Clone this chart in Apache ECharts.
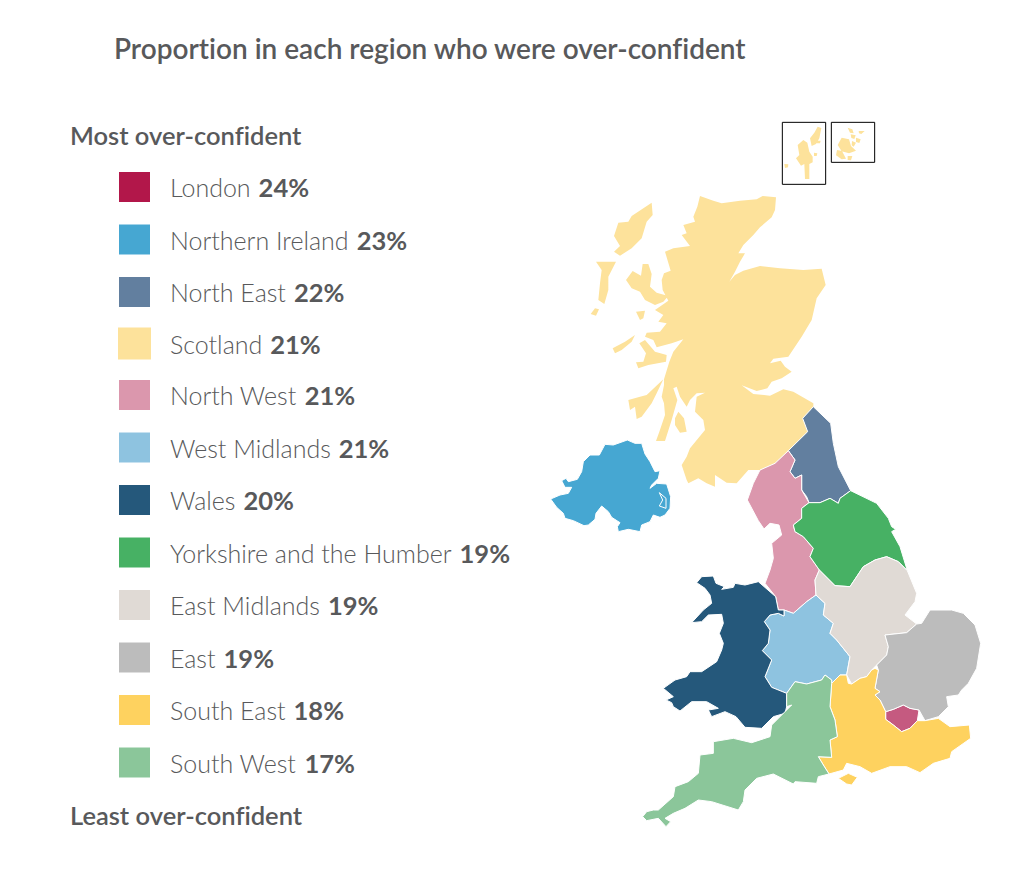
<!DOCTYPE html>
<html><head><meta charset="utf-8">
<style>html,body{margin:0;padding:0;background:#fff}#c{width:1024px;height:893px}#c text{font-variant-ligatures:none}</style>
<script src="https://cdn.jsdelivr.net/npm/echarts@6/dist/echarts.min.js"></script></head>
<body><div id="c"></div>
<script>
const titleText = 'Proportion in each region who were over-confident';
const topCaption = 'Most over-confident';
const bottomCaption = 'Least over-confident';
const regions = ['London','Northern Ireland','North East','Scotland','North West','West Midlands','Wales','Yorkshire and the Humber','East Midlands','East','South East','South West'];
const values = [24,23,22,21,21,21,20,19,19,19,18,17];
const swatchColors = ['#b2174a','#46a7d2','#627f9f','#fde29b','#db97ad','#8ec3e0','#25587b','#47b164','#e0dad5','#bcbcbc','#fed25f','#8bc69a'];
const mapColors = ['#c55a80','#46a7d2','#627f9f','#fde29b','#db97ad','#8ec3e0','#25587b','#47b164','#e0dad5','#bcbcbc','#fed25f','#8bc69a'];

// Region outlines. Units are thirds of a reference pixel,
// relative to one of three local sheets.
const N = [1620,330], S = [1890,1440], I = [1620,1290];
const outlines = {
 'London':[[S,[[767,695],[790,688],[820,675],[840,685],[867,690],[862,722],[840,745],[815,755],[790,735],[767,718]]]],
 'Northern Ireland':[[I,[[32,207],[60,195],[85,190],[95,172],[75,172],[65,152],[78,145],[85,155],[112,148],[125,125],[130,95],[150,75],[178,75],[195,43],[220,45],[262,30],[285,40],[305,40],[315,72],[330,95],[345,125],[360,122],[355,145],[335,165],[330,175],[350,160],[380,162],[392,200],[390,235],[375,255],[360,262],[340,255],[330,275],[305,285],[300,305],[265,298],[235,305],[232,290],[240,278],[215,262],[205,245],[185,228],[168,250],[165,268],[145,285],[132,287],[100,272],[75,265],[70,250],[50,232]],[[358,188],[378,205],[378,235],[358,228],[368,210]]]],
 'North East':[[S,[[550,-220],[602,-170],[610,-110],[625,-40],[662,32],[630,55],[625,70],[600,55],[570,68],[537,68],[530,50],[515,30],[515,-15],[495,-5],[480,-25],[495,-60],[475,-88],[533,-145],[518,-185]]]],
 'Scotland':[
  [N,[[480,258],[520,272],[545,280],[600,272],[650,268],[668,258],[708,262],[705,300],[695,322],[660,352],[640,375],[610,405],[595,430],[615,430],[600,455],[585,485],[568,515],[585,495],[610,482],[660,468],[720,475],[790,480],[845,476],[857,525],[830,565],[815,630],[785,680],[755,725],[745,740],[700,746],[690,760],[722,752],[735,770],[755,785],[725,805],[695,815],[682,835],[650,843],[605,826],[640,852],[690,857],[730,838],[760,845],[820,880],[820,890],[788,925],[803,965],[745,1022],[705,1060],[660,1080],[625,1080],[590,1120],[560,1118],[525,1095],[525,1130],[500,1120],[475,1105],[445,1120],[458,1145],[440,1110],[425,1065],[440,1040],[450,1015],[495,960],[490,930],[465,905],[470,860],[495,848],[470,850],[450,870],[440,890],[420,860],[410,830],[400,835],[412,870],[395,930],[375,993],[348,993],[358,965],[375,915],[372,880],[365,860],[372,825],[372,808],[388,755],[400,725],[430,688],[395,700],[350,712],[340,690],[315,680],[320,668],[360,665],[380,640],[355,635],[370,615],[345,600],[385,572],[368,540],[365,510],[372,490],[392,482],[375,425],[400,415],[450,408],[425,375],[440,370],[430,345],[465,335],[460,320],[472,290]]],
  [N,[[258,510],[278,483],[303,497],[308,462],[325,462],[335,492],[330,530],[350,548],[385,558],[370,575],[345,585],[315,570],[300,545],[275,535]]],
  [N,[[335,278],[338,315],[320,335],[305,385],[275,415],[240,437],[222,425],[240,408],[222,378],[235,338],[265,335],[275,318]]],
  [N,[[168,455],[228,455],[205,500],[205,540],[193,582],[175,570],[180,520],[185,480]]],
  [N,[[152,612],[165,595],[177,598],[168,617]]],
  [N,[[288,605],[315,602],[310,625],[300,630]]],
  [N,[[218,715],[255,695],[285,675],[275,695],[245,720],[225,730]]],
  [N,[[298,700],[315,690],[345,725],[380,735],[378,755],[325,765],[295,775],[288,757],[310,755],[318,730]]],
  [N,[[265,870],[300,860],[320,855],[370,808],[350,850],[335,880],[305,920],[290,927],[285,890],[270,900]]],
  [N,[[405,925],[415,905],[432,925],[440,965],[420,968],[405,945]]],
  [N,[[790,90],[802,98],[808,125],[818,140],[818,157],[808,162],[808,207],[795,207],[793,162],[783,167],[768,145],[778,135],[773,105]]],
  [N,[[833,50],[844,54],[838,85],[828,102],[815,108],[810,85],[823,68]]],
  [N,[[830,90],[842,92],[840,100],[830,100]]],
  [N,[[733,162],[745,163],[744,172],[735,174]]],
  [N,[[822,128],[832,130],[830,138],[822,138]]],
  [N,[[905,83],[927,88],[933,108],[948,122],[927,130],[905,124],[893,105]]],
  [N,[[891,120],[906,123],[918,146],[905,148],[888,136]]],
  [N,[[923,138],[937,138],[933,151],[923,150]]],
  [N,[[923,53],[937,58],[941,70],[930,68]]],
  [N,[[948,83],[962,88],[958,99],[948,96]]],
  [N,[[956,63],[974,63],[964,72],[957,70]]],
  [N,[[932,73],[947,76],[943,87],[934,84]]],
  [N,[[936,93],[948,98],[941,110],[935,106]]]
 ],
 'North West':[[S,[[475,-88],[495,-60],[480,-25],[495,-5],[515,-15],[515,30],[537,68],[515,85],[515,115],[490,135],[495,155],[520,170],[550,205],[540,230],[568,270],[555,300],[558,345],[530,365],[490,400],[462,390],[445,390],[437,350],[405,310],[420,270],[430,235],[425,190],[455,165],[447,135],[420,130],[402,147],[385,122],[352,60],[370,10],[390,-30],[435,-50]]]],
 'West Midlands':[[S,[[558,345],[585,370],[580,405],[610,430],[600,460],[620,480],[660,530],[650,585],[630,585],[605,610],[605,600],[585,585],[575,600],[530,612],[495,605],[470,640],[425,622],[405,590],[425,540],[397,512],[415,490],[420,450],[403,425],[420,405],[445,400],[462,408],[462,390],[490,400],[530,365]]]],
 'Wales':[[S,[[200,308],[215,290],[250,288],[258,310],[283,320],[275,328],[310,322],[315,310],[345,315],[385,305],[437,350],[445,390],[462,390],[462,408],[445,400],[420,405],[403,425],[420,450],[415,490],[397,512],[425,540],[405,590],[425,622],[470,640],[470,680],[465,700],[430,710],[395,745],[345,742],[318,710],[285,695],[245,710],[235,690],[265,685],[230,665],[185,665],[150,693],[130,680],[125,668],[108,660],[130,650],[100,625],[135,600],[170,590],[180,575],[215,575],[260,545],[275,510],[280,490],[268,460],[280,430],[275,403],[235,405],[215,425],[185,428],[220,390],[245,370],[240,345],[225,325]]]],
 'Yorkshire and the Humber':[[S,[[662,32],[740,70],[775,115],[785,140],[797,148],[785,155],[810,200],[832,272],[805,245],[770,230],[735,240],[700,260],[660,320],[615,317],[568,270],[540,230],[550,205],[520,170],[495,155],[490,135],[515,115],[515,85],[537,68],[570,68],[600,55],[625,70],[630,55]]]],
 'East Midlands':[[S,[[832,272],[860,340],[855,365],[825,405],[860,432],[830,458],[765,465],[775,500],[770,525],[740,555],[725,570],[710,590],[690,595],[665,612],[650,585],[660,530],[620,480],[600,460],[610,430],[580,405],[585,370],[558,345],[555,300],[568,270],[615,317],[660,320],[700,260],[735,240],[770,230],[805,245]]]],
 'East':[[S,[[860,432],[875,430],[900,390],[965,390],[1000,400],[1035,435],[1052,490],[1040,565],[1015,610],[995,630],[985,645],[950,650],[955,680],[925,710],[885,722],[867,690],[840,685],[820,675],[790,688],[767,695],[750,660],[735,645],[750,635],[735,625],[745,570],[740,555],[770,525],[775,500],[765,465],[830,458]]]],
 'South East':[
  [S,[[735,565],[745,570],[735,625],[750,635],[735,645],[750,660],[767,695],[767,718],[790,735],[815,755],[840,745],[862,722],[885,722],[925,715],[960,740],[1018,735],[1022,775],[965,815],[960,835],[910,850],[870,878],[830,860],[780,860],[725,880],[690,860],[650,850],[640,870],[597,882],[580,855],[565,830],[605,832],[600,780],[622,770],[615,720],[600,680],[605,610],[630,585],[650,585],[655,610],[665,612],[690,595],[710,590],[725,570]]],
  [S,[[625,895],[655,880],[682,892],[665,915],[650,912]]]
 ],
 'South West':[[S,[[605,610],[600,680],[615,720],[622,770],[600,780],[605,832],[565,830],[580,855],[597,882],[565,890],[560,910],[495,905],[490,912],[430,882],[380,895],[345,930],[340,965],[325,990],[245,965],[205,960],[165,985],[130,1000],[105,1015],[122,1025],[108,1040],[85,1015],[50,1022],[38,1010],[50,995],[70,990],[85,990],[130,950],[135,920],[175,905],[205,880],[210,825],[250,820],[250,785],[310,775],[365,788],[420,770],[425,735],[485,675],[470,680],[470,640],[495,605],[530,612],[575,600],[585,585],[605,600]]]]
};
// Inset frames around Shetland and Orkney.
const insetFrames = [[N,[[727,37],[857,37],[857,223],[727,223]]],[N,[[874,37],[1004,37],[1004,157],[874,157]]]];

const FULL_W = 3072, FULL_H = 2679;
function ring(sheet, pts){ const r = pts.map(p=>[sheet[0]+p[0], -(sheet[1]+p[1])]); r.push(r[0]); return r; }
function feature(name, parts){
  return {type:'Feature',properties:{name},geometry:{type:'MultiPolygon',
    coordinates:parts.map(part=>[ring(part[0],part[1])].concat(part.slice(2).map(h=>ring(part[0],h))))}};
}
function register(id, features){ echarts.registerMap(id,{type:'FeatureCollection',features}); }
const baseMap = {type:'map',aspectScale:1,roam:false,silent:true,left:0,top:0,width:1024,height:893,showLegendSymbol:false,
  boundingCoords:[[0,0],[FULL_W,-FULL_H]],label:{show:false},emphasis:{disabled:true},select:{disabled:true}};
const regionSeries = regions.map((name,i)=>{
  const id='uk-'+i; register(id,[feature(name,outlines[name])]);
  const islands = name==='Scotland';
  return Object.assign({},baseMap,{name,map:id,z:islands?1:2,data:[{name,value:values[i]}],
    itemStyle:{color:swatchColors[i],areaColor:mapColors[i],borderColor:'#fff',borderWidth:islands?0:1}});
});
insetFrames.forEach((f,i)=>register('inset-'+i,[feature('frame',[f])]));
const frameSeries = insetFrames.map((f,i)=>Object.assign({},baseMap,{name:'Inset '+i,map:'inset-'+i,z:3,
  itemStyle:{areaColor:'rgba(0,0,0,0)',color:'rgba(0,0,0,0)',borderColor:'#000',borderWidth:1}}));

const TXT='#58595b', FONT='Lato';
const chart = echarts.init(document.getElementById('c'),null,{renderer:'svg'});
chart.setOption({
  animation:false,
  backgroundColor:'#fff',
  title:[
    {text:titleText,left:114,top:34,padding:0,textStyle:{fontFamily:FONT,fontSize:28,fontWeight:600,color:TXT}},
    {text:topCaption,left:70,top:122,padding:0,textStyle:{fontFamily:FONT,fontSize:25.5,fontWeight:600,color:TXT}},
    {text:bottomCaption,left:70,top:802,padding:0,textStyle:{fontFamily:FONT,fontSize:25.5,fontWeight:600,color:TXT}}
  ],
  legend:{
    data:regions,orient:'vertical',left:117,top:170,padding:0,
    itemWidth:33,itemHeight:32,itemGap:18.5,icon:'rect',selectedMode:false,
    formatter:n=>`{l|}{n|${n}}{g|}{v|${values[regions.indexOf(n)]}%}`,
    textStyle:{rich:{
      l:{width:14,fontSize:25,lineHeight:33},
      g:{width:8,fontSize:25,lineHeight:33},
      n:{fontFamily:FONT,fontSize:25,fontWeight:300,color:TXT,lineHeight:33},
      v:{fontFamily:FONT,fontSize:25.5,fontWeight:700,color:TXT,lineHeight:33}}}
  },
  series:regionSeries.concat(frameSeries)
});
</script></body></html>
